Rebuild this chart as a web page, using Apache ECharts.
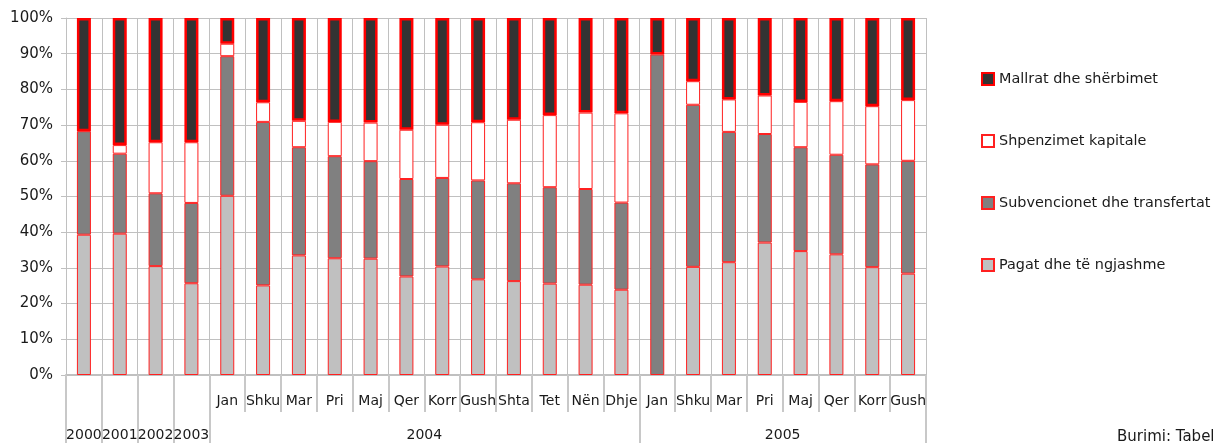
<!DOCTYPE html>
<html>
<head>
<meta charset="utf-8">
<script src="https://cdn.jsdelivr.net/npm/echarts@6/dist/echarts.min.js"></script>
<style>
html,body{margin:0;padding:0;background:#fff;}
#c{width:1214px;height:443px;}
</style>
</head>
<body>
<div id="c"></div>
<script>
// Category labels (first row) — empty for the yearly bars
const categories = ['', '', '', '',
  'Jan','Shku','Mar','Pri','Maj','Qer','Korr','Gush','Shta','Tet','Nën','Dhje',
  'Jan','Shku','Mar','Pri','Maj','Qer','Korr','Gush'];
// Year groups (second row) and how many categories each spans
const yearLabels = ['2000','2001','2002','2003','2004','2005'];
const yearSpans = [1,1,1,1,12,8];

const seriesNames = ['Pagat dhe të ngjashme','Subvencionet dhe transfertat','Shpenzimet kapitale','Mallrat dhe shërbimet'];

const pagat = [39.3,39.6,30.5,25.7, 50.2,25.1,33.5,32.7,32.6,27.6,30.4,26.8,26.3,25.6,25.3,23.9, null,30.3,31.6,37.1,34.7,33.8,30.2,28.4];
const subvencionet = [29.0,22.4,20.4,22.5, 39.1,45.8,30.3,28.6,27.3,27.3,24.8,27.7,27.4,27.0,26.8,24.4, 89.8,45.4,36.5,30.4,29.1,27.9,28.8,31.6];
const kapitale = [null,2.4,14.3,17.0, 3.5,5.5,7.4,9.6,10.8,13.8,14.9,16.3,17.8,20.2,21.4,25.0, null,6.6,9.1,10.8,12.7,15.0,16.3,17.0];
const mallrat = [31.7,35.6,34.8,34.8, 7.2,23.6,28.8,29.1,29.3,31.3,29.9,29.2,28.5,27.2,26.5,26.7, 10.2,17.7,22.8,21.7,23.5,23.3,24.7,23.0];

const yTicks = [0,10,20,30,40,50,60,70,80,90,100];

// group boundaries and centres for the year row
const bounds = [0];
yearSpans.forEach(s => bounds.push(bounds[bounds.length-1] + s));
const centres = yearSpans.map((s,i) => bounds[i] + s/2);

const FONT = 'DejaVu Sans';
const gridCol = '#c0c0c0';

const chart = echarts.init(document.getElementById('c'), null, {renderer:'canvas'});

function mk(name, data, color, bw, bc) {
  return {
    name, type:'bar', stack:'a', data, barWidth:14,
    itemStyle:{color, borderColor:bc, borderWidth:bw},
    emphasis:{disabled:true}, animation:false
  };
}

chart.setOption({
  animation:false,
  textStyle:{fontFamily:FONT},
  title:{
    text:'Burimi: Tabela', left:1117, top:430, padding:0,
    textStyle:{fontFamily:FONT, fontSize:15, fontWeight:'normal', color:'#1a1a1a'}
  },
  legend:{
    orient:'vertical', left:976, top:67,
    itemWidth:12, itemHeight:12, itemGap:48,
    icon:'rect',
    data:['Mallrat dhe shërbimet','Shpenzimet kapitale','Subvencionet dhe transfertat','Pagat dhe të ngjashme'],
    textStyle:{fontFamily:FONT, fontSize:14.4, color:'#1a1a1a'}
  },
  grid:{left:66, right:288, top:18, bottom:68, containLabel:false},
  xAxis:[{
    type:'category', data:categories, boundaryGap:true,
    axisLine:{show:true, lineStyle:{color:gridCol, width:2}},
    axisTick:{show:true, alignWithLabel:false, length:37, lineStyle:{color:'#c8c8c8', width:2}},
    axisLabel:{interval:0, margin:19, fontFamily:FONT, fontSize:14, color:'#1a1a1a'},
    splitLine:{show:true, interval:0, lineStyle:{color:gridCol, width:1}}
  },{
    type:'value', min:0, max:bounds[bounds.length-1], position:'bottom',
    axisLine:{show:false},
    axisTick:{show:true, customValues:bounds.filter((b,i) => i < 5 || i === bounds.length-2 || i === bounds.length-1), length:68, lineStyle:{color:'#c8c8c8', width:2}},
    axisLabel:{show:true, customValues:centres, margin:53, fontFamily:FONT, fontSize:14, color:'#1a1a1a',
      formatter:v => { const i = centres.indexOf(v); return i >= 0 ? yearLabels[i] : ''; }},
    splitLine:{show:false}
  }],
  yAxis:{
    type:'value', min:0, max:100, interval:10,
    axisLine:{show:true, lineStyle:{color:gridCol}},
    axisTick:{show:true, length:5, lineStyle:{color:gridCol}},
    axisLabel:{margin:13, fontFamily:FONT, fontSize:15, color:'#1a1a1a',
      customValues:yTicks, formatter:v => v + '%'},
    splitLine:{show:true, lineStyle:{color:gridCol, width:1}}
  },
  series:[
    mk(seriesNames[0], pagat, '#c0c0c0', 1, '#ff2020'),
    mk(seriesNames[1], subvencionet, '#808080', 1, '#ff2020'),
    mk(seriesNames[2], kapitale, '#ffffff', 1, '#ff2020'),
    mk(seriesNames[3], mallrat, '#333333', 2.5, '#ff0000')
  ]
});
</script>
</body>
</html>
